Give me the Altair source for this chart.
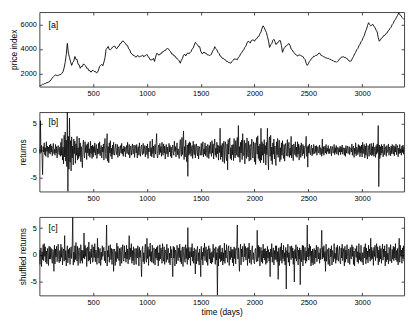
import altair as alt
import pandas as pd

FONT = "Liberation Sans"

# ---------------- data ----------------
# price index every 10 days (one row = 100 days)
price_vals = [
    960, 1020, 1040, 1120, 1110, 1180, 1190, 1260, 1250, 1330,
    1380, 1500, 1640, 1720, 1790, 1890, 1840, 1820, 1860, 1900,
    1910, 2020, 2140, 2450, 2900, 3550, 4450, 3650, 3300, 2950,
    2650, 2900, 3000, 3380, 3150, 3150, 2750, 2700, 2420, 2580,
    2560, 2780, 2680, 2620, 2420, 2420, 2220, 2230, 2100, 2230,
    2250, 2150, 2170, 2040, 2090, 2280, 2580, 2650, 2740, 2620,
    2920, 3280, 3950, 4060, 4200, 3950, 3930, 4000, 4150, 4200,
    4230, 4060, 4010, 4180, 4220, 4430, 4460, 4620, 4640, 4520,
    4450, 4300, 4270, 4000, 3930, 3660, 3600, 3480, 3480, 3360,
    3330, 3450, 3440, 3320, 3410, 3420, 3500, 3350, 3430, 3460,
    3550, 3360, 3300, 3110, 3100, 3120, 3230, 2980, 3330, 3620,
    3600, 3480, 3590, 3580, 3740, 3750, 3860, 3850, 3990, 4030,
    4000, 3860, 3780, 3580, 3580, 3440, 3430, 3260, 3230, 3110,
    3020, 2830, 3080, 3220, 3480, 3570, 3420, 3580, 3680, 3600,
    3680, 3770, 3980, 4070, 4310, 4530, 4420, 4330, 4170, 4180,
    3820, 3630, 3620, 3750, 3650, 3650, 3520, 3510, 3470, 3480,
    3570, 3830, 3920, 4180, 4020, 3930, 3720, 3630, 3420, 3380,
    3230, 3230, 3120, 3110, 2970, 2980, 2870, 2880, 2830, 2970,
    3060, 3180, 3170, 3150, 3120, 3310, 3380, 3580, 3680, 3830,
    3930, 4130, 4220, 4480, 4620, 4580, 4470, 4680, 4720, 4730,
    4620, 4780, 4820, 4980, 5020, 5230, 5370, 5680, 5880, 5730,
    5520, 5340, 5000, 4650, 4120, 4330, 4420, 4690, 4780, 4580,
    4350, 4480, 4520, 4680, 4670, 4280, 3720, 3980, 4100, 4230,
    4260, 4380, 4430, 4280, 3990, 3930, 3750, 3680, 3540, 3510,
    3400, 3510, 3490, 3480, 3400, 3380, 3230, 3130, 2830, 2650,
    2780, 2980, 3070, 3230, 3270, 3410, 3390, 3480, 3470, 3580,
    3660, 3620, 3450, 3450, 3350, 3350, 3250, 3260, 3220, 3230,
    3130, 3150, 3050, 3060, 2960, 2980, 2900, 2990, 3030, 3180,
    3230, 3350, 3330, 3360, 3280, 3290, 3180, 3130, 3000, 3000,
    3030, 3230, 3380, 3580, 3720, 3930, 4020, 4240, 4370, 4580,
    4680, 4930, 5080, 5380, 5580, 5880, 6130, 5980, 5880, 5930,
    6000, 5820, 5750, 5520, 5380, 4920, 4620, 4730, 4880, 4920,
    5080, 5090, 5230, 5270, 5450, 5520, 5680, 5770, 5980, 6080,
    6320, 6390, 6580, 6720, 6950, 6780, 6730, 6570, 6480, 6380]
price_step = 10

# daily returns sampled every 5 days, in tenths (one row = 100 days)
returns_tenths = [
    3, -6, 55, -4, 9, -12, -45, 7, -3, 14, -8, 5, -11, 16, -2, 8, -13, 6, -5, 10,
    -7, 12, -3, 8, -10, 4, 13, -6, 2, -9, 11, -5, 7, -14, 3, 9, -4, -8, 6, -11,
    15, -9, 22, -18, 6, -25, 28, -12, 34, -20, 19, -30, 71, -76, 26, -35, 60, -22, 18, -38,
    25, -14, 8, -27, 21, -6, 17, -24, 12, -9, 26, -18, 5, -15, 23, -11, 14, -21, 7, -16,
    -32, 11, 19, -7, -14, 16, -4, 9, -17, 12, -5, 15, -10, 3, -13, 17, -6, 8, -15, 10,
    -12, 7, -4, 14, -9, 5, 11, -15, 3, -7, 13, -6, 16, -10, 2, 9, -14, 6, -3, 12,
    -18, 9, 22, -6, -15, 12, 31, -20, 7, -23, 14, -5, 18, -11, 4, -16, 10, -8, 15, -4,
    -9, 6, 12, -3, -8, 11, -13, 4, 7, -10, 2, 9, -5, 13, -7, 3, -11, 8, -2, 6,
    -12, 4, 9, -6, 15, -3, -8, 11, -14, 5, 8, -9, 3, 12, -7, -4, 10, -13, 6, 9,
    -5, 11, -14, 3, 7, -9, 14, -4, -11, 6, 10, -3, -8, 13, -6, 2, 9, -12, 5, 8,
    -8, 12, -15, 4, -3, 9, 17, -10, 5, -12, 21, -6, 8, -14, 3, 11, -7, 13, 31, -9,
    -14, 5, 10, -8, 13, -4, 7, -11, 15, -3, -9, 12, -5, 8, -16, 4, 11, -7, 6, -12,
    -7, 13, -3, 9, -11, 6, -14, 4, 10, -5, -9, 17, -2, 7, -12, 5, 14, -8, 3, -10,
    -15, 9, 20, -6, -11, 24, -8, 14, 36, -17, 7, -12, 19, -5, -21, 10, -48, 13, -9, 16,
    -6, 14, -11, 4, 9, -15, 17, -3, -8, 11, -14, 6, 12, -5, -10, 8, -16, 3, 7, -9,
    -5, 13, -9, 6, 16, -12, 3, -7, 14, -10, 8, -4, -13, 11, 5, -15, 9, -6, 15, -3,
    -11, 18, -5, 12, -16, 7, 21, -9, 4, -13, 15, -6, 10, -18, 8, -4, 41, -17, 9, -12,
    13, -21, 6, 17, -24, 9, 16, -11, -19, 12, -36, 20, -7, 14, 23, -15, 5, -18, 10, -8,
    11, -19, 22, -6, -14, 18, -9, 13, 24, -12, 46, -13, 7, -22, 15, -5, 19, -17, 31, -10,
    -9, 19, -25, 8, 14, -15, 23, -4, -12, 17, -20, 8, 11, -18, 6, 21, -9, -14, 16, -7,
    -21, 14, -26, 9, 24, -7, 27, -15, 8, -19, 12, -23, 41, -18, 16, -9, 12, -23, 20, -6,
    9, -27, 15, -8, 41, -12, -36, 18, 25, -11, 28, -19, 6, -26, 14, -7, 21, -16, 8, -24,
    -28, 16, -8, 22, -13, 6, 19, -21, 5, -17, 14, -9, 18, -6, -15, 11, -20, 7, 13, -10,
    -6, 20, -11, 7, 15, -13, 4, -9, 26, -14, 10, -5, -19, 12, 4, -8, 16, -11, 6, -13,
    16, -7, 12, -18, 5, 9, -13, 14, -4, -10, 11, -6, 8, -15, 3, 10, 26, -11, 7, -31,
    9, -5, 12, -3, -8, 6, 10, -10, 4, -7, 11, -2, -6, 8, -4, 9, -9, 3, 7, -5,
    -4, 10, -8, 5, 3, -11, 21, -6, 7, -9, 2, 8, -5, 11, -7, 4, -2, 9, -6, 3,
    -6, 4, 8, -10, 3, 7, -5, -3, 11, -8, 5, -4, 9, -7, 2, 6, -9, 4, -3, 8,
    -8, 6, -3, 10, -7, 2, 5, -9, 4, -11, 9, -5, 3, 8, -6, -2, 7, -8, 5, 4,
    -3, 12, -9, 5, 8, -13, 4, -6, 14, -10, 6, 3, -8, 11, -4, 9, -12, 7, -5, 10,
    -12, 15, -6, 4, 11, -14, 8, -9, 13, -5, -16, 9, 6, -11, 12, -3, -8, 13, -10, 7,
    -8, 14, -11, 5, 6, -13, 9, -7, 12, -4, 46, -67, 10, -15, 7, -9, 11, -5, 8, -12,
    -5, 12, -8, 3, 7, -11, 9, -4, -2, 12, -9, 6, 4, -10, 8, -6, 11, -3, -7, 9,
    -10, 7, -3, 12, -8, 5, 9, -12, 4, -6, 11, -5, 3, -9, 8, -4, 10, -7, 6, -3,
    -4]

shuffled_tenths = [
    9, -18, 4, 13, -22, 6, -9, 19, -11, 21, -3, 15, -14, 7, -17, 12, 3, -20, 16, -8,
    15, -8, 12, -5, -16, 10, 6, -31, 18, -17, 11, -4, 16, -13, 5, 20, -9, -15, 8, -12,
    20, -5, 14, -19, 7, 11, -12, 36, -10, 8, -21, 3, 17, -15, 10, -6, 13, -18, 4, 15,
    -7, 12, 70, -19, 5, -14, 17, -9, 23, -4, -12, 16, -20, 8, 13, -6, -16, 19, -11, 9,
    -16, 8, -6, 41, -8, 18, -3, 13, -22, 7, 15, -12, 24, -10, 6, -17, 11, -5, 19, -14,
    -10, 15, -5, 21, -13, 9, 4, -18, 31, -6, 14, -16, 8, 12, -20, 5, -9, 17, -3, 11,
    14, -11, 7, -15, 10, 56, -21, 8, -4, 17, -14, 3, 19, -9, 12, -18, 6, 11, -31, 9,
    11, -20, 6, -13, 22, -7, 16, -3, -11, 12, -21, 8, 14, -16, 5, 19, -9, -12, 17, -6,
    5, -14, 18, -8, 11, -17, 9, 36, -9, 13, -4, 21, -16, 8, -11, 15, -19, 6, 12, -7,
    -18, 12, -6, 17, 9, -21, 14, -5, 8, -13, -41, 9, 16, -13, 4, -17, 10, 20, -8, -14,
    31, -7, 15, -20, 10, -3, 22, -12, 6, -14, 18, -9, -16, 13, 5, -19, 11, -6, 14, -10,
    17, -21, 4, -11, 19, -8, 13, 7, -16, 21, -5, -12, 15, -18, 9, 6, -14, 20, -9, 12,
    12, -15, 3, -19, 16, -6, 10, -13, -41, 16, -6, 14, -21, 9, 5, -17, 18, -4, -11, 13,
    -5, 20, -13, 8, -17, 11, 15, -22, 6, 15, -10, -14, 19, -7, 12, -18, 51, -9, 14, -6,
    6, -20, 14, -4, 21, -12, 7, -16, 13, -8, -36, 10, -17, 7, 16, -12, 4, -19, 11, -5,
    -41, 16, -9, 5, -19, 13, -3, 22, -11, 8, 15, -14, 10, -20, 6, 17, -8, 12, -15, 4,
    -17, 6, -14, 20, -5, 12, 9, -18, 15, -10, 4, -76, 12, -21, 16, -7, 18, -13, 5, -11,
    13, -19, 4, -12, 22, -16, 8, -6, 19, -3, -14, 11, 17, -20, 7, -9, 15, -5, 10, -15,
    10, -21, 15, -7, 12, -17, 6, 18, 56, -8, 13, -11, -31, 7, 20, -19, 11, -4, 16, -13,
    -12, 21, -4, 16, -10, 6, 13, -20, 14, -7, 22, -15, 9, -5, -18, 11, 17, -9, 4, -14,
    -17, 9, 12, -8, -13, 46, -12, 18, -5, 15, -21, 3, 14, -13, 8, -16, 20, -6, 11, -10,
    12, -18, 7, -15, 16, -6, 10, -12, 5, -41, 11, -4, 21, -14, 6, 13, -19, 8, -9, 17,
    -9, 17, -13, 6, -46, 13, -20, 5, 15, -11, 22, -16, 9, -7, 18, -12, 4, -19, 14, -64,
    8, -5, 20, -14, 4, -21, 16, 11, -9, 17, -6, 13, -18, 7, -51, 10, -7, 19, -12, 5,
    15, -19, 9, -8, 13, -56, 9, -13, 6, 18, -21, 17, -10, 4, 14, -16, 7, -12, 56, -4,
    13, -10, 20, -3, 16, -21, 7, -15, 11, -19, 5, 12, -17, 9, -6, 18, -13, 4, 15, -8,
    4, -16, 12, -9, 14, 46, -8, 14, -5, 17, -12, 6, -31, 20, -12, 6, 10, -18, 13, -7,
    -21, 11, -4, 17, -19, 8, 5, -13, 21, -7, 3, -16, 14, -10, 18, -5, -12, 9, 16, -14,
    -17, 13, -6, 20, -11, 4, 12, -21, 16, -14, 9, -8, 19, -3, -15, 11, 7, -18, 14, -5,
    -8, 19, -3, 15, -18, 7, -21, 12, 10, -5, 17, -13, 6, -16, 21, -9, 4, -12, 18, -10,
    -14, 4, -19, 10, 15, -6, 21, -17, 13, -9, 7, -15, 18, -4, 11, -12, 31, -9, 14, -7,
    8, -20, 14, -3, 18, -11, 6, 21, -6, 15, -19, 9, -13, 17, -8, 12, -16, 5, 20, -10,
    11, -4, 17, -21, 7, -13, 20, -9, 3, -17, 14, 8, -12, 19, -6, -15, 10, -8, 16, -11,
    14, -6, 21, -10, 8, -13, 12, -19, 5, 31, -14, 18, -3, 9, -16, 13, -7, 17, -12, 6,
    12]
return_step = 5

x_ticks = [500, 1000, 1500, 2000, 2500, 3000]
x_domain = [0, 3390]
price_ticks = [2000, 4000, 6000]
price_domain = [930, 7000]
ret_ticks = [-5, 0, 5]
ret_domain = [-7.6, 7.1]
y_titles = ["price index", "returns", "shuffled returns"]
x_title = "time (days)"
tags = ["[a]", "[b]", "[c]"]
tag_day = 85
tag_level = [5980, 5.2, 5.0]

# ---------------- tables ----------------
df_price = pd.DataFrame({"day": [i * price_step for i in range(len(price_vals))], "v": price_vals})
df_ret = pd.DataFrame({"day": [i * return_step for i in range(len(returns_tenths))],
                       "v": [r / 10 for r in returns_tenths]})
df_shuf = pd.DataFrame({"day": [i * return_step for i in range(len(shuffled_tenths))],
                        "v": [r / 10 for r in shuffled_tenths]})

W = 372
EDGE = "#444444"


def panel(df, ydomain, yticks, ytitle, tag, tagy, height, xtitle, sw):
    xs = alt.Scale(domain=x_domain, nice=False, zero=False)
    ys = alt.Scale(domain=ydomain, nice=False, zero=False)
    main = alt.Chart(df).mark_line(color="black", strokeWidth=sw, clip=True, strokeJoin="round").encode(
        x=alt.X("day:Q", scale=xs,
                axis=alt.Axis(orient="bottom", values=x_ticks, offset=-3, tickSize=3, domain=False,
                              grid=False, labelPadding=3, title=xtitle, titlePadding=2,
                              labelExpr="'' + datum.value")),
        y=alt.Y("v:Q", scale=ys,
                axis=alt.Axis(orient="left", values=yticks, offset=-3, tickSize=3, domain=False,
                              grid=False, labelPadding=3, title=ytitle, titlePadding=2,
                              labelExpr="'' + datum.value")),
    )
    mirror = alt.Chart(df).mark_line(strokeOpacity=0, clip=True).encode(
        x=alt.X("day:Q", scale=xs,
                axis=alt.Axis(orient="top", values=x_ticks, offset=-3, tickSize=3, domain=False,
                              grid=False, labels=False, title="")),
        y=alt.Y("v:Q", scale=ys,
                axis=alt.Axis(orient="right", values=yticks, offset=-3, tickSize=3, domain=False,
                              grid=False, labels=False, title="")),
    )
    tdf = pd.DataFrame({"day": [tag_day], "v": [tagy], "t": [tag]})
    label = alt.Chart(tdf).mark_text(align="left", baseline="middle", fontSize=9, font=FONT,
                                     color="black").encode(
        x=alt.X("day:Q", scale=xs, axis=None),
        y=alt.Y("v:Q", scale=ys, axis=None),
        text="t:N",
    )
    return alt.layer(main, mirror, label).resolve_axis(x="independent", y="independent").properties(
        width=W, height=height)


pa = panel(df_price, price_domain, price_ticks, y_titles[0], tags[0], tag_level[0], 76, "", 0.9)
pb = panel(df_ret, ret_domain, ret_ticks, y_titles[1], tags[1], tag_level[1], 81, "", 0.75)
pc = panel(df_shuf, ret_domain, ret_ticks, y_titles[2], tags[2], tag_level[2], 80, x_title, 0.75)

chart = alt.vconcat(pa, pb, pc, spacing=26, bounds="flush").properties(
    padding={"left": 0, "top": 0, "right": 2, "bottom": 0}, background="white"
).configure_view(stroke=EDGE, strokeWidth=1).configure_axis(
    labelFont=FONT, titleFont=FONT, labelFontSize=7.5, titleFontSize=8.5, titleFontWeight="normal",
    labelColor="black", titleColor="black", tickColor=EDGE, tickWidth=1
)

chart.save("out.html", embed_options={"renderer": "svg", "actions": False})
